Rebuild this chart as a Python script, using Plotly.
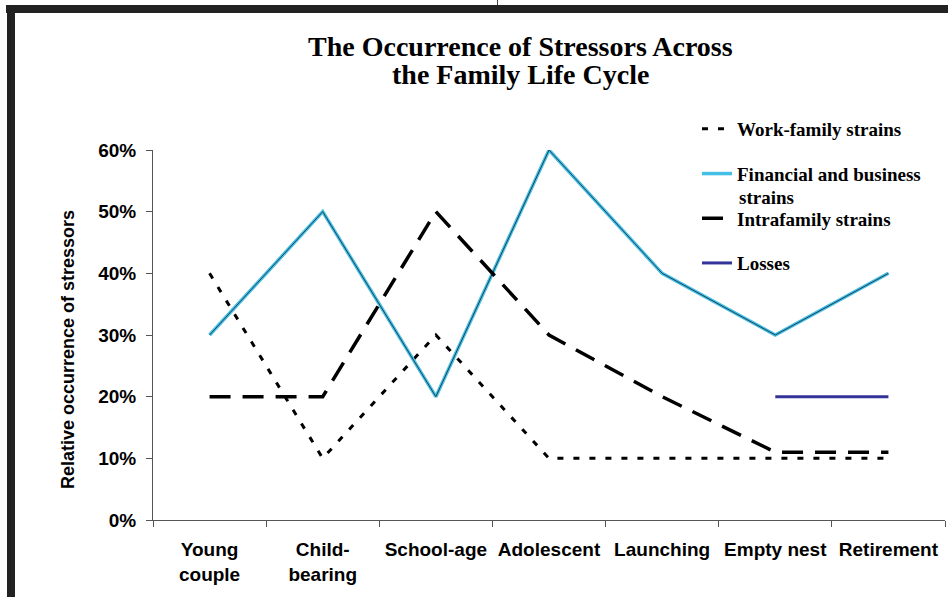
import plotly.graph_objects as go

categories = ["Young<br>couple", "Child-<br>bearing", "School-age", "Adolescent",
              "Launching", "Empty nest", "Retirement"]
work_family = [0.40, 0.10, 0.30, 0.10, 0.10, 0.10, 0.10]
financial = [0.30, 0.50, 0.20, 0.60, 0.40, 0.30, 0.40]
intrafamily = [0.20, 0.20, 0.50, 0.30, 0.20, 0.11, 0.11]
losses = [None, None, None, None, None, 0.20, 0.20]
y_ticks = [0, 0.1, 0.2, 0.3, 0.4, 0.5, 0.6]

W, H = 948, 597
L, R, T, B = 153, 3, 150, 77
PW, PH = W - L - R, H - T - B


def px_x(px):
    return (px - L) / PW


def px_y(py):
    return (H - B - py) / PH


SERIF = "Liberation Serif, Times New Roman, serif"
SANS = "Liberation Sans, Arial, sans-serif"

fig = go.Figure()
fig.add_trace(go.Scatter(
    x=categories, y=work_family, mode="lines", name="Work-family strains",
    legendgroup="a", line=dict(color="black", width=3, dash="6px,10px"),
    cliponaxis=False))
fig.add_trace(go.Scatter(
    x=categories, y=financial, mode="lines", name="Financial and business",
    legendgroup="b", line=dict(color="#45bfe6", width=3.5), cliponaxis=False))
fig.add_trace(go.Scatter(
    x=categories, y=financial, mode="lines", showlegend=False,
    legendgroup="b", line=dict(color="#1b4458", width=1), cliponaxis=False))
fig.add_trace(go.Scatter(
    x=categories, y=intrafamily, mode="lines", name="Intrafamily strains",
    legendgroup="c", line=dict(color="black", width=3.5, dash="21px,12px"),
    cliponaxis=False))
fig.add_trace(go.Scatter(
    x=categories, y=losses, mode="lines", name="Losses",
    legendgroup="d", line=dict(color="#333399", width=3), cliponaxis=False))

fig.update_layout(
    width=W, height=H, autosize=False,
    margin=dict(l=L, r=R, t=T, b=B, pad=0),
    paper_bgcolor="white", plot_bgcolor="white",
    showlegend=True,
    legend=dict(
        x=px_x(697), xanchor="left", y=px_y(110), yanchor="top",
        bgcolor="rgba(0,0,0,0)", borderwidth=0,
        font=dict(family=SERIF, size=19, color="black", weight="bold"),
        tracegroupgap=17, valign="middle", itemwidth=30,
    ),
    xaxis=dict(
        type="category", categoryorder="array", categoryarray=categories,
        range=[-0.5, 6.5], showgrid=False, zeroline=False,
        showline=True, linecolor="#555555", linewidth=1,
        ticks="outside", tickson="boundaries", ticklen=6, tickcolor="#555555",
        tickfont=dict(family=SANS, size=19, color="black", weight="bold"),
        ticklabelstandoff=12,
    ),
    yaxis=dict(
        range=[0, 0.6], tickvals=y_ticks, tickformat=".0%",
        showgrid=False, zeroline=False,
        showline=True, linecolor="#555555", linewidth=1,
        ticks="outside", ticklen=6, tickcolor="#555555",
        tickfont=dict(family=SANS, size=19, color="black", weight="bold"),
        ticklabelstandoff=6,
    ),
    annotations=[
        dict(text="The Occurrence of Stressors Across", xref="paper", yref="paper",
             x=px_x(520), y=px_y(46), xanchor="center", yanchor="middle",
             showarrow=False,
             font=dict(family=SERIF, size=28, color="black", weight="bold")),
        dict(text="the Family Life Cycle", xref="paper", yref="paper",
             x=px_x(520), y=px_y(74), xanchor="center", yanchor="middle",
             showarrow=False,
             font=dict(family=SERIF, size=28, color="black", weight="bold")),
        dict(text="strains", xref="paper", yref="paper",
             x=px_x(737), y=px_y(197.5), xanchor="left", yanchor="middle",
             showarrow=False,
             font=dict(family=SERIF, size=19, color="black", weight="bold")),
        dict(text="Relative occurrence of stressors", xref="paper", yref="paper",
             x=px_x(68), y=px_y(350), xanchor="center", yanchor="middle",
             textangle=-90, showarrow=False,
             font=dict(family=SANS, size=18, color="black", weight="bold")),
    ],
    shapes=[
        dict(type="rect", xref="paper", yref="paper",
             x0=px_x(6), x1=px_x(948), y0=px_y(13), y1=px_y(5),
             fillcolor="#222222", line=dict(width=0), layer="above"),
        dict(type="rect", xref="paper", yref="paper",
             x0=px_x(7), x1=px_x(15), y0=px_y(597), y1=px_y(5),
             fillcolor="#222222", line=dict(width=0), layer="above"),
        dict(type="line", xref="paper", yref="paper",
             x0=px_x(497.5), x1=px_x(497.5), y0=px_y(5), y1=px_y(0),
             line=dict(color="#444444", width=1)),
    ],
)

fig.write_html(
    "out.html",
    config={"displayModeBar": False},
    post_script="document.body.style.margin='0px';document.body.style.overflow='hidden';",
)
